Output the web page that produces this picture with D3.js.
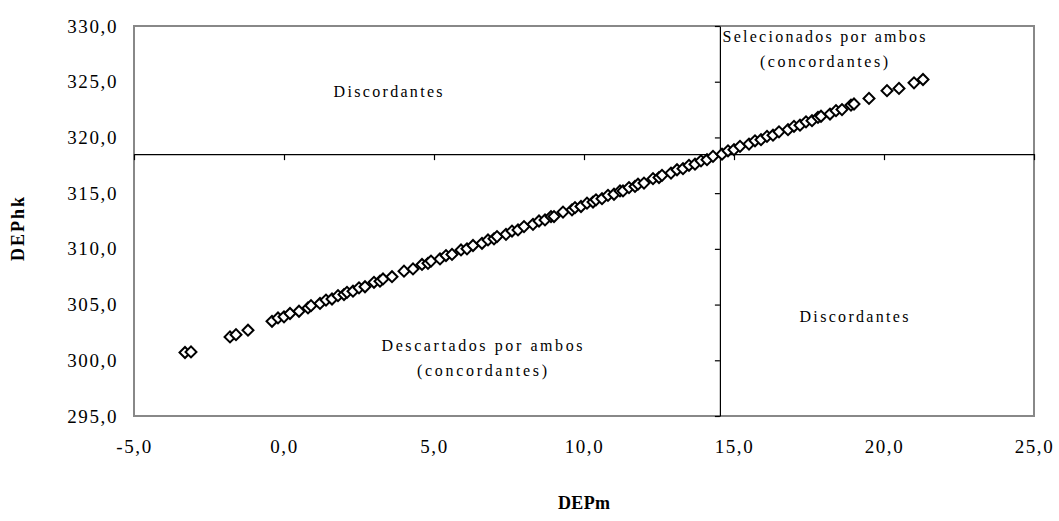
<!DOCTYPE html>
<html>
<head>
<meta charset="utf-8">
<script src="https://cdn.jsdelivr.net/npm/d3@7"></script>
<style>
  body { margin: 0; background: #fff; }
  text { font-family: "Liberation Serif", "Times New Roman", serif; fill: #000; }
</style>
</head>
<body>
<script>
// chart size
var svgWidth = 1059;
var svgHeight = 521;

var margin = { top: 26, right: 25, bottom: 105, left: 134 };
var width = 900;
var height = 390;

// data
var depM = [-3.3, -3.1, -1.8, -1.6, -1.2, -0.4, -0.2, 0.0, 0.2, 0.5, 0.8, 0.9, 1.2, 1.4, 1.6,
  1.8, 2.0, 2.1, 2.3, 2.5, 2.7, 3.0, 3.2, 3.3, 3.6, 4.0, 4.3, 4.6, 4.8, 4.9, 5.2, 5.4, 5.6,
  5.9, 6.1, 6.3, 6.6, 6.8, 7.0, 7.1, 7.4, 7.6, 7.8, 8.0, 8.3, 8.5, 8.7, 8.9, 9.0, 9.3, 9.6,
  9.7, 9.9, 10.1, 10.3, 10.4, 10.6, 10.8, 11.0, 11.2, 11.3, 11.5, 11.7, 11.8, 12.0, 12.3,
  12.5, 12.6, 12.9, 13.1, 13.3, 13.5, 13.7, 13.9, 14.1, 14.3, 14.6, 14.8, 15.0, 15.2, 15.5,
  15.7, 15.9, 16.1, 16.3, 16.5, 16.8, 17.0, 17.2, 17.4, 17.6, 17.8, 17.9, 18.2, 18.4, 18.6,
  18.9, 19.0, 19.5, 20.1, 20.5, 21.0, 21.3];
var depHk = [300.7, 300.75, 302.1, 302.3, 302.7, 303.5, 303.8, 303.9, 304.2, 304.4, 304.7,
  304.9, 305.1, 305.4, 305.5, 305.8, 305.9, 306.1, 306.2, 306.5, 306.6, 307.0, 307.1, 307.3,
  307.5, 308.0, 308.2, 308.6, 308.7, 308.9, 309.1, 309.4, 309.5, 309.9, 310.0, 310.3, 310.5,
  310.8, 310.9, 311.1, 311.3, 311.6, 311.7, 312.0, 312.2, 312.5, 312.6, 312.9, 312.9, 313.3,
  313.5, 313.7, 313.8, 314.1, 314.2, 314.4, 314.5, 314.8, 314.9, 315.2, 315.2, 315.5, 315.6,
  315.8, 315.9, 316.3, 316.4, 316.6, 316.8, 317.1, 317.2, 317.5, 317.6, 317.9, 318.0, 318.3,
  318.5, 318.8, 318.9, 319.2, 319.4, 319.7, 319.8, 320.1, 320.2, 320.5, 320.7, 321.0, 321.1,
  321.4, 321.5, 321.8, 321.9, 322.1, 322.4, 322.5, 322.9, 323.0, 323.5, 324.2, 324.4, 324.9,
  325.2];

var xTicks = [-5, 0, 5, 10, 15, 20, 25];
var yTicks = [295, 300, 305, 310, 315, 320, 325, 330];

// where the two cut-off lines cross
var cutX = 14.53;
var cutY = 318.5;

var quadrantLabels = [
  { lines: ["Discordantes"], x: 3.47, y: 323.6, len: [109] },
  { lines: ["Selecionados por ambos", "(concordantes)"], x: 18.0, y: 328.6, len: [203, 128] },
  { lines: ["Descartados por ambos", "(concordantes)"], x: 6.6, y: 300.8, len: [201, 130] },
  { lines: ["Discordantes"], x: 19.0, y: 303.4, len: [109] }
];

// comma decimal, plain hyphen for negatives
var fmt = function (d) { return d3.format(".1f")(d).replace(".", ",").replace("\u2212", "-"); };

var svg = d3.select("body")
  .append("svg")
  .attr("width", svgWidth)
  .attr("height", svgHeight);

var chart = svg.append("g")
  .attr("transform", `translate(${margin.left}, ${margin.top})`);

var xScale = d3.scaleLinear().domain([-5, 25]).range([0, width]);
var yScale = d3.scaleLinear().domain([295, 330]).range([height, 0]);

// plot border
chart.append("rect")
  .attr("x", 0)
  .attr("y", 0)
  .attr("width", width)
  .attr("height", height)
  .attr("fill", "none")
  .attr("stroke", "#888")
  .attr("stroke-width", 2);

// tick labels sit at the plot edges
var xLabels = chart.append("g")
  .attr("transform", `translate(0, ${height})`)
  .call(d3.axisBottom(xScale).tickValues(xTicks).tickFormat(fmt).tickSize(0).tickPadding(24));
var yLabels = chart.append("g")
  .call(d3.axisLeft(yScale).tickValues(yTicks).tickFormat(fmt).tickSize(0).tickPadding(16));
[xLabels, yLabels].forEach(function (g) {
  g.select(".domain").remove();
  g.selectAll("text")
    .style("font-family", "Liberation Serif, serif")
    .style("font-size", "19px")
    .style("letter-spacing", "1.6px");
});

// crossing axes with their tick marks
var xCross = chart.append("g")
  .attr("transform", `translate(0, ${yScale(cutY)})`)
  .call(d3.axisBottom(xScale).tickValues(xTicks).tickFormat("").tickSize(6).tickSizeOuter(0));
var yCross = chart.append("g")
  .attr("transform", `translate(${xScale(cutX)}, 0)`)
  .call(d3.axisLeft(yScale).tickValues(yTicks).tickFormat("").tickSize(5).tickSizeOuter(0));
[xCross, yCross].forEach(function (g) {
  g.selectAll("path, line").attr("stroke", "#000").attr("stroke-width", 1.2);
});

// points
var diamond = d3.symbol().type(d3.symbolSquare).size(60);
chart.selectAll(".pt")
  .data(depM)
  .enter()
  .append("path")
  .attr("class", "pt")
  .attr("d", diamond)
  .attr("transform", (d, i) => `translate(${xScale(d)}, ${yScale(depHk[i])}) rotate(45)`)
  .attr("fill", "#fff")
  .attr("stroke", "#000")
  .attr("stroke-width", 2);

// quadrant annotations
quadrantLabels.forEach(function (q) {
  q.lines.forEach(function (line, i) {
    chart.append("text")
      .attr("x", xScale(q.x))
      .attr("y", yScale(q.y) + i * 25)
      .attr("text-anchor", "middle")
      .attr("textLength", q.len[i])
      .attr("lengthAdjust", "spacing")
      .style("font-size", "16px")
      .text(line);
  });
});

// axis titles
svg.append("text")
  .attr("transform", `translate(24, ${margin.top + height / 2 + 8}) rotate(-90)`)
  .attr("text-anchor", "middle")
  .attr("textLength", 64)
  .attr("lengthAdjust", "spacing")
  .style("font-size", "18px")
  .style("font-weight", "bold")
  .text("DEPhk");

svg.append("text")
  .attr("x", margin.left + width / 2)
  .attr("y", 509)
  .attr("text-anchor", "middle")
  .attr("textLength", 52)
  .attr("lengthAdjust", "spacing")
  .style("font-size", "18px")
  .style("font-weight", "bold")
  .text("DEPm");
</script>
</body>
</html>
